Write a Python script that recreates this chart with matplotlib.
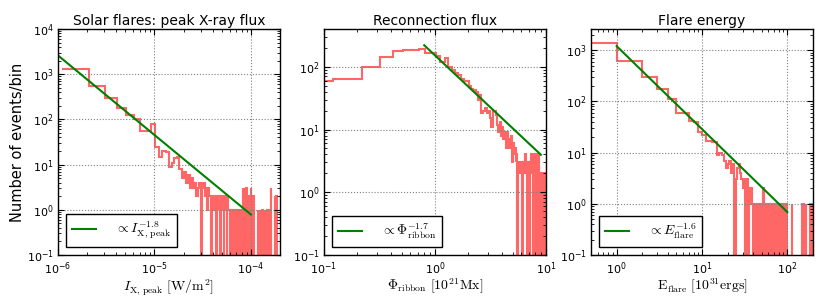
import numpy as np
import matplotlib
matplotlib.use('Agg')
import matplotlib.pyplot as plt

# --- peak X-ray flux histogram (linear bins of 1e-6 W/m^2) ---
xray_bin_start = 1.1e-6
xray_bin_width = 1e-6
xray_counts = [
    1330, 540, 300, 180, 125, 100, 55, 55, 78, 25,
    15, 20, 19, 9, 11, 14, 15, 8, 5, 7,
    4, 6, 3, 5, 3, 4, 2, 3, 4, 0,
    3, 4, 2, 3, 1, 3, 2, 0, 2, 2,
    1, 2, 0, 2, 2, 1, 2, 0, 1, 2,
    2, 0, 1, 2, 1, 0, 2, 1, 1, 0,
    1, 0, 0, 1, 1, 0, 1, 0, 0, 1,
    0, 1, 0, 0, 1, 1, 0, 0, 1, 0,
    1, 3, 0, 3, 1, 0, 0, 2, 3, 0,
    1, 0, 0, 2, 1, 0, 0, 1, 0, 3,
    2, 2, 0, 2, 0, 2, 0, 0, 0, 0,
    0, 0, 0, 0, 0, 0, 1, 0, 0, 0,
    0, 0, 0, 1, 0, 0, 0, 0, 0, 0,
    1, 0, 0, 0, 0, 0, 0, 0, 0, 1,
    0, 0, 0, 0, 0, 0, 0, 1, 0, 0,
    0, 0, 0, 0, 1, 0, 0, 0, 0, 0,
    3, 3, 0, 0, 0, 0, 0, 0, 0, 0,
    0, 0, 0, 0, 0, 0, 0, 2, 0, 0,
    0, 0, 2, 0, 0, 0, 0, 0, 0, 0,
    0, 0, 0, 0, 0, 0, 0, 0, 0,
]
xray_fit = dict(x0=1e-6, x1=1e-4, amp=2600.0, slope=1.76, label=r'$\propto I_{\rm X,\,peak}^{-1.8}$')

# --- reconnection flux histogram (bins of 0.1 x 10^21 Mx) ---
flux_bin_start = 0.02
flux_bin_width = 0.1
flux_counts = [
    59, 64, 100, 145, 180, 185, 188, 195,
    167, 165, 150, 120, 140, 100, 90, 80, 75, 65, 60, 60,
    50, 45, 42, 40, 30, 35, 18, 20, 22, 18,
    20, 15, 11, 20, 20, 17, 12, 9, 13, 8,
    11, 7, 9, 5, 9, 5, 7, 5, 8, 3,
    6, 4, 5, 3, 4, 0, 3, 3, 2, 3,
    3, 0, 3, 2, 3, 4, 3, 0, 3, 2,
    3, 0, 3, 4, 3, 2, 0, 4, 4, 3,
    0, 4, 3, 2, 0, 2, 4, 1, 0, 2,
    2, 0, 2, 2, 1, 2, 0, 2, 2, 2,
]
flux_fit = dict(x0=0.8, x1=9.0, amp=220.0, slope=1.66, label=r'$\propto \Phi_{\rm ribbon}^{-1.7}$')

# --- flare energy histogram (bins of 1 x 10^31 ergs) ---
energy_bin_start = 0.0
energy_bin_width = 1.0
energy_counts = [
    1400, 615, 305, 175, 110, 60, 60, 42, 40, 25,
    22, 17, 17, 16, 16, 9, 10, 9, 7, 5,
    6, 7, 4, 6, 0, 3, 5, 6, 4, 3,
    2, 3, 0, 2, 3, 0, 1, 2, 2, 1,
    0, 1, 1, 0, 1, 1, 0, 1, 0, 1,
    1, 0, 2, 1, 0, 1, 1, 0, 1, 0,
    1, 1, 0, 1, 0, 1, 1, 0, 1, 1,
    0, 1, 1, 0, 1, 1, 1, 0, 1, 1,
    1, 0, 1, 1, 1, 0, 1, 1, 1, 1,
    0, 1, 1, 1, 1, 0, 1, 1, 1, 1,
    0, 0, 0, 0, 0, 0, 0, 0, 0, 0,
    0, 0, 1, 0, 0, 0, 0, 0, 0, 0,
    0, 0, 0, 0, 0, 0, 0, 0, 0, 0,
    0, 0, 0, 0, 0, 0, 0, 0, 0, 0,
    0, 0, 0, 0, 0, 0, 0, 0, 0, 0,
    1, 0, 0, 0, 1, 0, 0, 1, 0, 0,
    0, 0, 0, 0, 0, 1, 0, 0, 0, 0,
    0, 0, 0, 0, 0, 0, 0, 0, 0, 0,
    0, 0, 0, 0, 0, 0, 1, 0, 0, 1,
    0, 0, 1, 0, 0, 1, 0, 0, 1, 0,
]
energy_fit = dict(x0=1.0, x1=100.0, amp=1200.0, slope=1.62, label=r'$\propto E_{\rm flare}^{-1.6}$')

panels = [
    ('Solar flares: peak X-ray flux', xray_counts, xray_bin_start, xray_bin_width, xray_fit,
     (1e-6, 2e-4), (0.1, 1e4), r'$I_{\rm X,\,peak}\ [\rm W/m^2]$'),
    ('Reconnection flux', flux_counts, flux_bin_start, flux_bin_width, flux_fit,
     (0.1, 10), (0.1, 400), r'$\Phi_{\rm ribbon}\ [10^{21}\rm Mx]$'),
    ('Flare energy', energy_counts, energy_bin_start, energy_bin_width, energy_fit,
     (0.5, 200), (0.1, 2600), r'$\rm E_{flare}\ [10^{31} ergs]$'),
]

plt.rcParams['mathtext.fontset'] = 'cm'
plt.rcParams['font.size'] = 8

fig = plt.figure(figsize=(8.3, 2.97), dpi=100)
lefts = [58, 324, 591]
for left, (title, counts, start, width, fit, xlim, ylim, xlabel) in zip(lefts, panels):
    ax = fig.add_axes([left / 830, 1 - 255 / 297, 222 / 830, 226 / 297])
    counts = np.asarray(counts, dtype=float)
    edges = start + width * np.arange(len(counts) + 1)
    ax.set_xscale('log')
    ax.set_yscale('log', nonpositive='clip')
    ax.stairs(counts, edges, color='red', alpha=0.6, lw=1.5, baseline=None)
    xf = np.logspace(np.log10(fit['x0']), np.log10(fit['x1']), 50)
    yf = fit['amp'] * (xf / fit['x0']) ** (-fit['slope'])
    ax.plot(xf, yf, color='green', lw=1.5, label=fit['label'])
    ax.set_xlim(*xlim)
    ax.set_ylim(*ylim)
    ax.set_title(title, fontsize=10, pad=3)
    ax.set_xlabel(xlabel, fontsize=10, labelpad=0)
    ax.grid(True, which='major', color='0.5', ls=':', lw=0.8)
    ax.tick_params(which='both', direction='in', top=True, right=True, labelsize=8)
    ax.tick_params(which='major', length=4, pad=3)
    ax.tick_params(axis='x', which='major', pad=4)
    ax.tick_params(which='minor', length=2)
    for s in ax.spines.values():
        s.set_linewidth(1.0)
    leg = ax.legend(loc='lower left', fancybox=False, fontsize=10, handlelength=1.7,
                    handletextpad=1.4, borderpad=0.4, framealpha=1, borderaxespad=0.6)
    leg.get_frame().set_edgecolor('black')
    if left == 58:
        ax.set_ylabel('Number of events/bin', fontsize=10.5, labelpad=1)

fig.savefig('out.png', dpi=100, facecolor='white')
